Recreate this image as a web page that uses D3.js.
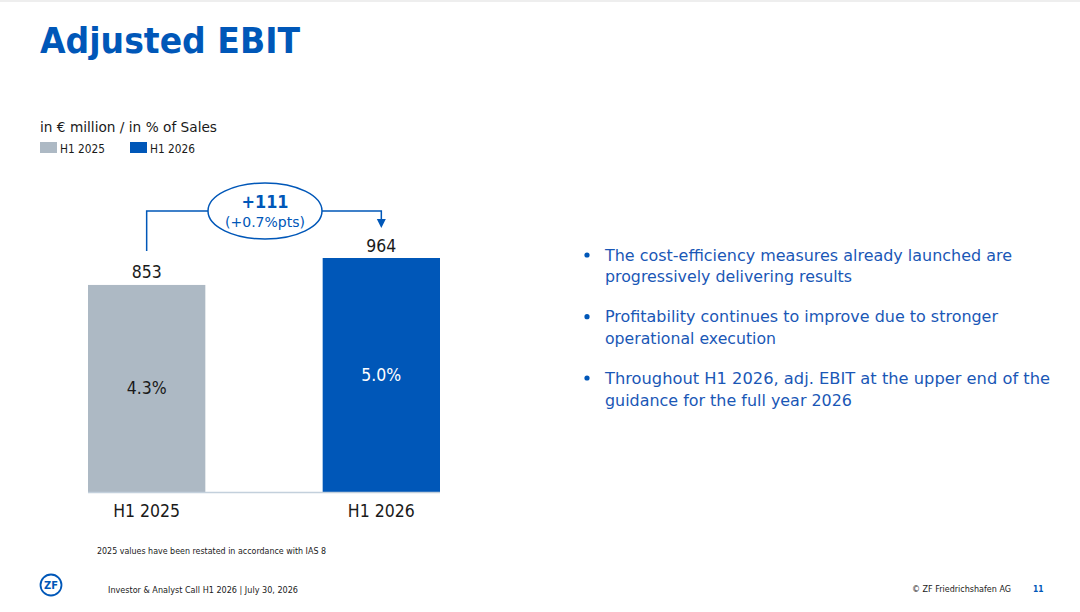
<!DOCTYPE html>
<html><head><meta charset="utf-8">
<script src="https://cdn.jsdelivr.net/npm/d3@7"></script>
<style>html,body{margin:0;padding:0;background:#fff;}svg{display:block;font-family:"DejaVu Sans",Verdana,sans-serif;}</style>
</head><body>
<svg id="c" width="1080" height="612"></svg>
<script>
const categories = ["H1 2025", "H1 2026"];
const ebitValues = [853, 964];
const marginLabels = ["4.3%", "5.0%"];
const seriesColors = ["#adb9c4", "#0057b8"];
const deltaLabel = "+111";
const deltaSubLabel = "(+0.7%pts)";
const bullets = [
  ["The cost-efficiency measures already launched are", "progressively delivering results"],
  ["Profitability continues to improve due to stronger", "operational execution"],
  ["Throughout H1 2026, adj. EBIT at the upper end of the", "guidance for the full year 2026"]
];
const bulletWidths = [[407, 247], [393, 171], [445, 247]];

const BLUE = "#0057b8";
const svg = d3.select("#c");

function fit(sel, w) {
  sel.attr("textLength", w).attr("lengthAdjust", "spacingAndGlyphs");
  return sel;
}
function txt(x, y, s, size, opts = {}) {
  const t = svg.append("text").attr("x", x).attr("y", y)
    .attr("dominant-baseline", "central")
    .attr("font-size", size)
    .attr("fill", opts.fill || "#1a1a1a")
    .attr("font-weight", opts.weight || "normal")
    .attr("text-anchor", opts.anchor || "start")
    .text(s);
  if (opts.w) fit(t, opts.w);
  return t;
}

// top thin band
svg.append("rect").attr("x", 0).attr("y", 0).attr("width", 1080).attr("height", 2).attr("fill", "#eeeeee");

// title
txt(40, 41, "Adjusted EBIT", 35, {fill: BLUE, weight: "bold", w: 260});
txt(40, 127, "in € million / in % of Sales", 14.5, {w: 177});

// legend
const legX = [40, 130];
categories.forEach((c, i) => {
  svg.append("rect").attr("x", legX[i]).attr("y", 142).attr("width", 17).attr("height", 11).attr("fill", seriesColors[i]);
  txt(legX[i] + 20, 148.5, c, 12, {w: 45});
});

// scales
const x = d3.scaleBand().domain(categories).range([88, 440]).paddingInner(0.5).paddingOuter(0);
const y = d3.scaleLinear().domain([0, 964]).range([492, 258]);

// bars
svg.selectAll("rect.bar").data(ebitValues).enter().append("rect")
  .attr("class", "bar")
  .attr("x", (d, i) => x(categories[i]))
  .attr("y", d => y(d))
  .attr("width", x.bandwidth())
  .attr("height", d => y(0) - y(d))
  .attr("fill", (d, i) => seriesColors[i]);

// baseline
svg.append("line").attr("x1", 88).attr("x2", 440).attr("y1", y(0) + 0.5).attr("y2", y(0) + 0.5)
  .attr("stroke", "#c3d0dc").attr("stroke-width", 1.5);

// value labels
ebitValues.forEach((v, i) => {
  const cx = x(categories[i]) + x.bandwidth() / 2;
  txt(cx, y(v) - 13, String(v), 18, {anchor: "middle", w: 30});
  txt(cx, (y(v) + y(0)) / 2, marginLabels[i], 17, {anchor: "middle", w: 40, fill: i === 1 ? "#ffffff" : "#1a1a1a"});
  txt(cx, 510.5, categories[i], 18, {anchor: "middle", w: 67});
});

// bracket
const c0 = x(categories[0]) + x.bandwidth() / 2;
const c1 = x(categories[1]) + x.bandwidth() / 2;
const bY = 211, ex = 265, erx = 57, ery = 28;
const g = svg.append("g").attr("stroke", BLUE).attr("stroke-width", 1.5).attr("fill", "none");
g.append("path").attr("d", `M${c0},${y(ebitValues[0]) - 34} V${bY} H${ex - erx}`);
g.append("path").attr("d", `M${ex + erx},${bY} H${c1} V${222}`);
svg.append("path").attr("d", `M${c1 - 4.5},${219} L${c1 + 4.5},${219} L${c1},${228} Z`).attr("fill", BLUE);
g.append("ellipse").attr("cx", ex).attr("cy", bY).attr("rx", erx).attr("ry", ery).attr("fill", "#fff");
txt(ex, 202, deltaLabel, 17, {anchor: "middle", weight: "bold", fill: BLUE, w: 47});
txt(ex, 222, deltaSubLabel, 14, {anchor: "middle", fill: BLUE, w: 80});

// bullets
const lineY = [[255, 276.7], [316.7, 338], [378, 400]];
bullets.forEach((b, i) => {
  svg.append("circle").attr("cx", 587).attr("cy", lineY[i][0]).attr("r", 2.6).attr("fill", BLUE);
  b.forEach((line, j) => {
    txt(605, lineY[i][j], line, 16.5, {fill: "#1a57b6", w: bulletWidths[i][j]});
  });
});

// footnote and footer
txt(97, 550.5, "2025 values have been restated in accordance with IAS 8", 9.5, {w: 229});
txt(108, 589, "Investor & Analyst Call H1 2026 | July 30, 2026", 9.5, {w: 190});
txt(912, 588.5, "© ZF Friedrichshafen AG", 9.5, {w: 99});
txt(1033, 588.5, "11", 9.5, {fill: BLUE, weight: "bold", w: 10.5});

// logo
svg.append("circle").attr("cx", 51).attr("cy", 585).attr("r", 10.5).attr("fill", "none").attr("stroke", BLUE).attr("stroke-width", 1.8);
txt(51, 585.5, "ZF", 11, {anchor: "middle", weight: "bold", fill: BLUE, w: 14});
</script>
</body></html>
